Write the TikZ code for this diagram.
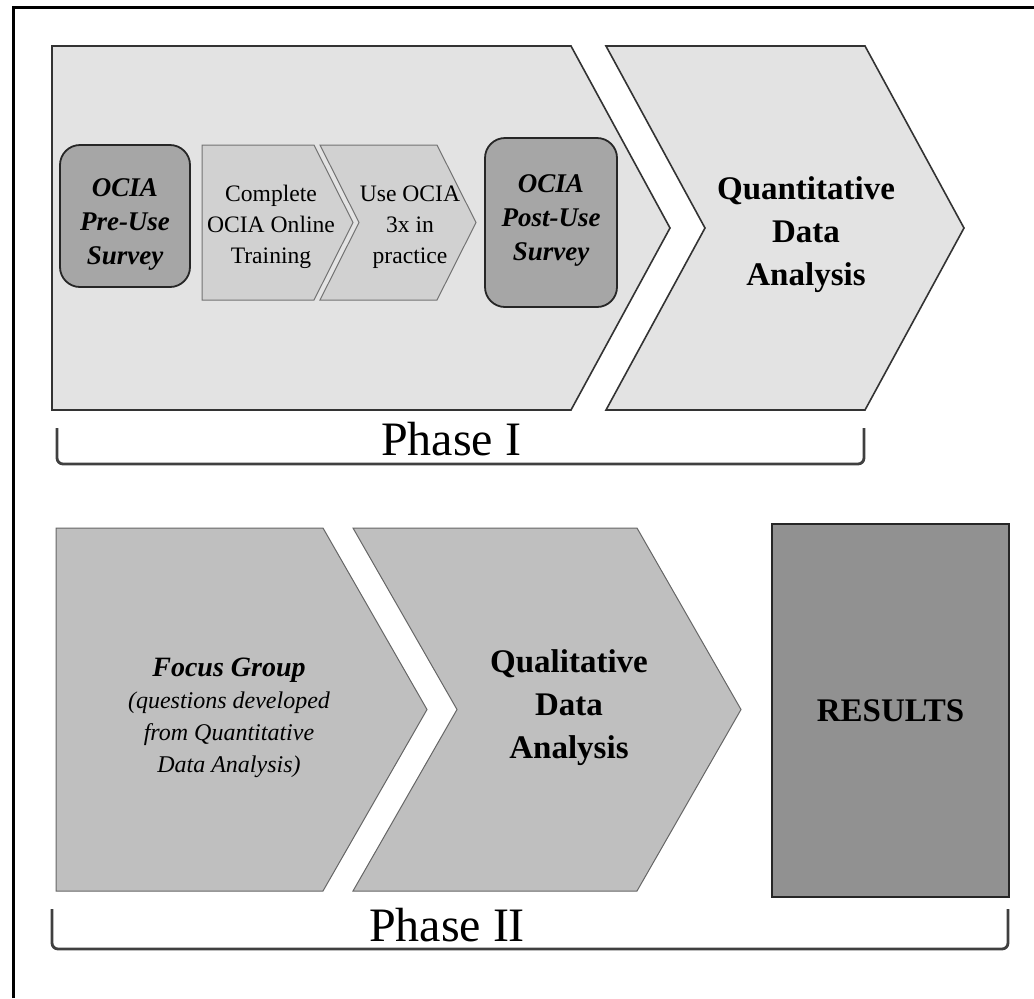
\documentclass[tikz,border=0pt]{standalone}
\usepackage{fontspec}
\setmainfont{Liberation Serif}
\tikzstyle{bigchev} = [draw=black!80, line width=0.8pt, fill=black!11]
\tikzstyle{smallchev} = [draw=black!55, line width=0.5pt, fill=black!18]
\tikzstyle{lowchev} = [draw=black!60, line width=0.5pt, fill=black!25]
\tikzstyle{survey} = [rectangle, rounded corners=10pt, draw=black!85, line width=0.9pt, fill=black!35]
\tikzstyle{surveytext} = [align=center, font=\bfseries\itshape\fontsize{13.5}{17}\selectfont]
\tikzstyle{steptext} = [align=center, font=\fontsize{11.8}{15.5}\selectfont]
\tikzstyle{bigtext} = [align=center, font=\bfseries\fontsize{16.5}{21.5}\selectfont]
\tikzstyle{phasetext} = [anchor=base, inner sep=0pt, font=\fontsize{24}{28}\selectfont]
\tikzstyle{bracket} = [draw=black!75, line width=1.4pt, rounded corners=3pt]

\begin{document}
\begin{tikzpicture}[x=0.5pt, y=-0.5pt]
    \useasboundingbox (0,0) rectangle (1034,998);
    \draw [line width=1.5pt] (13,998) -- (13,7) -- (1034,7);
    % Phase I
    \draw [bigchev] (52,46) -- (571,46) -- (670,228) -- (571,410) -- (52,410) -- cycle;
    \draw [bigchev] (606,46) -- (865,46) -- (964,228) -- (865,410) -- (606,410) -- (705,228) -- cycle;
    \draw [smallchev] (202,145) -- (314,145) -- (353,222.5) -- (314,300) -- (202,300) -- cycle;
    \draw [smallchev] (320,145) -- (437,145) -- (476,222.5) -- (437,300) -- (320,300) -- (359,222.5) -- cycle;
    \node (pre) [survey, minimum width=65pt, minimum height=71pt] at (125,216) {};
    \node (pretext) [surveytext] at (125,224) {OCIA\\Pre-Use\\Survey};
    \node (post) [survey, minimum width=66pt, minimum height=84.5pt] at (551,222.5) {};
    \node (posttext) [surveytext] at (551,220) {OCIA\\Post-Use\\Survey};
    \node (training) [steptext] at (271,227) {Complete\\OCIA Online\\Training};
    \node (practice) [steptext] at (410,227) {Use OCIA\\3x in\\practice};
    \node (quant) [bigtext] at (806,235) {Quantitative\\Data\\Analysis};
    \draw [bracket] (57,428) -- (57,464) -- (864,464) -- (864,428);
    \node (phase1) [phasetext] at (451,455) {Phase I};
    % Phase II
    \draw [lowchev] (56,528) -- (323,528) -- (427,709.5) -- (323,891) -- (56,891) -- cycle;
    \draw [lowchev] (353,528) -- (637,528) -- (741,709.5) -- (637,891) -- (353,891) -- (457,709.5) -- cycle;
    \node (focus) [align=center, font=\itshape\fontsize{12}{16}\selectfont] at (229,718) {{\bfseries\fontsize{14}{16}\selectfont Focus Group}\\(questions developed\\from Quantitative\\Data Analysis)};
    \node (qual) [bigtext] at (569,708) {Qualitative\\Data\\Analysis};
    \node (results) [rectangle, draw=black!85, line width=1.2pt, fill=black!43, minimum width=118.5pt, minimum height=186.5pt, font=\bfseries\fontsize{16.5}{20}\selectfont] at (890.5,710.5) {RESULTS};
    \draw [bracket] (52,909) -- (52,949) -- (1008,949) -- (1008,909);
    \node (phase2) [phasetext] at (447,941) {Phase II};
\end{tikzpicture}
\end{document}
